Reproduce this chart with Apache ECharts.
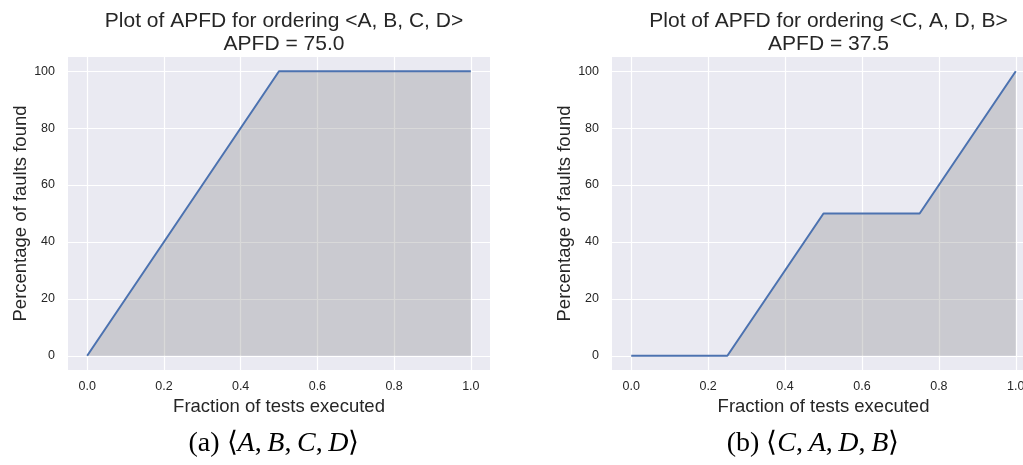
<!DOCTYPE html>
<html>
<head>
<meta charset="utf-8">
<script src="https://cdn.jsdelivr.net/npm/echarts@6/dist/echarts.min.js"></script>
<style>
  html, body { margin: 0; padding: 0; background: #ffffff; overflow: hidden; }
  /* the right-hand panel runs a little past the page edge, so the canvas is wider than the page */
  #chart { width: 1040px; height: 465px; }
</style>
</head>
<body>
<div id="chart"></div>
<script>
// Fraction of the test suite executed, and the cumulative share of faults found
const fractions = [0, 0.25, 0.5, 0.75, 1.0];
const faultsABCD = [0, 50, 100, 100, 100];
const faultsCADB = [0, 0, 50, 50, 100];

const xTicks = [0, 0.2, 0.4, 0.6, 0.8, 1.0];
const yTicks = [0, 20, 40, 60, 80, 100];

const panelTitles = [
  'Plot of APFD for ordering <A, B, C, D>\nAPFD = 75.0',
  'Plot of APFD for ordering <C, A, D, B>\nAPFD = 37.5'
];
const captions = [
  '(a) ⟨{i|A},\u2009{i|B},\u2009{i|C},\u2009{i|D}⟩',
  '(b) ⟨{i|C},\u2009{i|A},\u2009{i|D},\u2009{i|B}⟩'
];

const SANS = '"Liberation Sans", Arial, sans-serif';
const SERIF = '"Liberation Serif", "Times New Roman", serif';
const TEXT = '#262626';

const grids = [
  { left: 68, top: 57, width: 422, height: 313 },
  { left: 612, top: 57, width: 423, height: 313 }
];

function xAxisFor(i) {
  return {
    type: 'value', gridIndex: i, min: -0.05, max: 1.05,
    name: 'Fraction of tests executed', nameLocation: 'middle', nameGap: 26,
    nameTextStyle: { fontFamily: SANS, fontSize: 18.5, color: TEXT },
    axisLine: { show: false },
    axisTick: { show: false, customValues: xTicks },
    axisLabel: {
      customValues: xTicks, margin: 10,
      fontFamily: SANS, fontSize: 12.5, color: TEXT,
      formatter: v => v.toFixed(1)
    },
    splitLine: { show: true, lineStyle: { color: '#ffffff', width: 1.2 } }
  };
}

function yAxisFor(i) {
  return {
    type: 'value', gridIndex: i, min: -5, max: 105,
    name: 'Percentage of faults found', nameLocation: 'middle', nameGap: 38,
    nameTextStyle: { fontFamily: SANS, fontSize: 18.5, color: TEXT },
    axisLine: { show: false },
    axisTick: { show: false, customValues: yTicks },
    axisLabel: {
      customValues: yTicks, margin: 13,
      fontFamily: SANS, fontSize: 12.5, color: TEXT
    },
    splitLine: { show: true, lineStyle: { color: '#ffffff', width: 1.2 } }
  };
}

function seriesFor(i, values) {
  return {
    type: 'line', xAxisIndex: i, yAxisIndex: i,
    data: fractions.map((f, k) => [f, values[k]]),
    showSymbol: false, symbol: 'none',
    lineStyle: { color: '#4C72B0', width: 2 },
    areaStyle: { color: '#808080', opacity: 0.3, origin: 0 },
    z: 3
  };
}

const chart = echarts.init(document.getElementById('chart'), null, { renderer: 'canvas' });
chart.setOption({
  animation: false,
  backgroundColor: '#ffffff',
  title: grids.map((g, i) => ({
    text: panelTitles[i],
    left: g.left + g.width / 2,
    top: 5,
    textAlign: 'center',
    textStyle: { fontFamily: SANS, fontSize: 21, fontWeight: 'normal', color: TEXT, lineHeight: 22.5 }
  })),
  grid: grids.map(g => Object.assign({ show: true, backgroundColor: '#EAEAF2', borderWidth: 0 }, g)),
  xAxis: [xAxisFor(0), xAxisFor(1)],
  yAxis: [yAxisFor(0), yAxisFor(1)],
  series: [seriesFor(0, faultsABCD), seriesFor(1, faultsCADB)],
  graphic: [274, 813].map((cx, i) => ({
    type: 'text',
    x: cx, y: 444,
    style: {
      text: captions[i],
      fontFamily: SERIF, fontSize: 28, fill: '#000000',
      align: 'center', verticalAlign: 'middle',
      rich: { i: { fontFamily: SERIF, fontSize: 28, fontStyle: 'italic', fill: '#000000' } }
    }
  }))
});
</script>
</body>
</html>
